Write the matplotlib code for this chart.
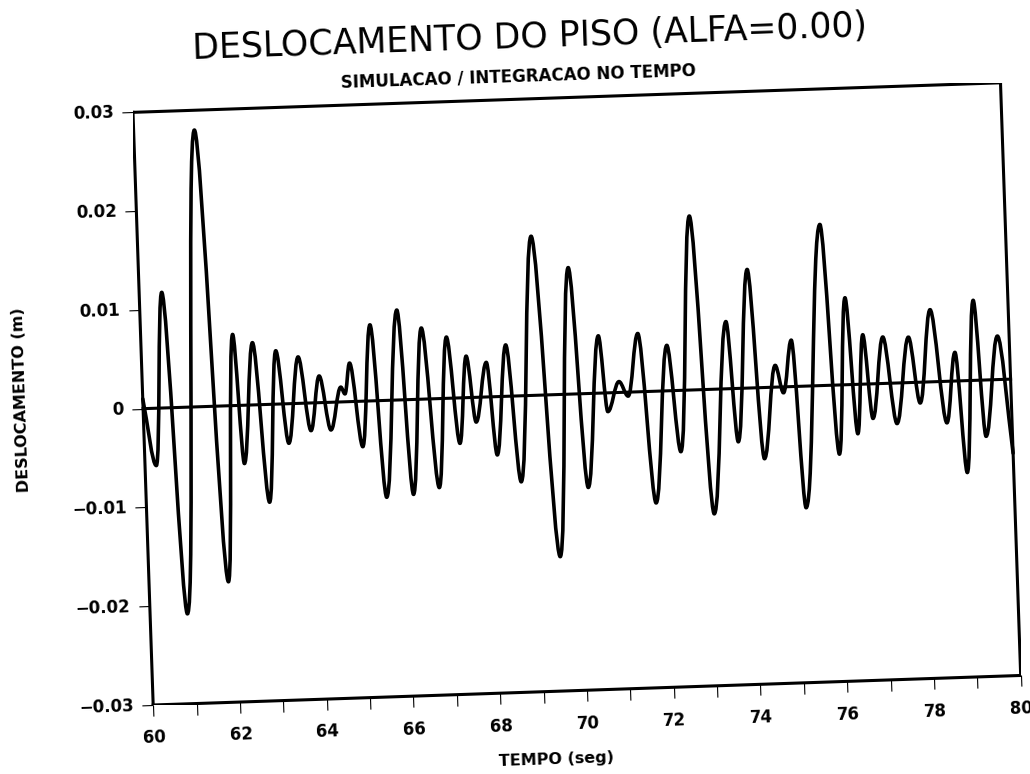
import matplotlib
matplotlib.use("Agg")
import matplotlib.pyplot as plt
from matplotlib.path import Path
from matplotlib.patches import PathPatch
from matplotlib.transforms import Affine2D
import mpl_toolkits.axisartist.floating_axes as floating_axes
from mpl_toolkits.axisartist.grid_finder import FixedLocator, DictFormatter

# Turning points of the floor displacement record (time in s, displacement in m)
tempo = [60.00, 60.26, 60.52, 60.86, 61.40, 61.83, 62.12, 62.29, 62.57, 62.84,
         63.10, 63.33, 63.61, 63.85, 64.08, 64.31, 64.57, 64.66, 64.79, 65.03,
         65.29, 65.54, 65.92, 66.16, 66.47, 66.76, 67.04, 67.27, 67.48, 67.66,
         67.94, 68.12, 68.40, 68.65, 69.07, 69.49, 69.90, 70.19, 70.54, 70.70,
         70.98, 71.18, 71.45, 71.74, 72.11, 72.35, 72.73, 73.07, 73.49, 73.68,
         74.02, 74.27, 74.59, 74.76, 74.98, 75.19, 75.73, 76.00, 76.25, 76.44,
         76.63, 76.80, 77.09, 77.35, 77.68, 77.90, 78.20, 78.50, 78.74, 78.93,
         79.20, 79.39, 79.73, 80.00]
desloc = [0.0010, -0.0058, 0.0117, -0.0209, 0.0280, -0.0178, 0.0072, -0.0059, 0.0063, -0.0099,
          0.0054, -0.0040, 0.0047, -0.0028, 0.0027, -0.0028, 0.0015, 0.0008, 0.0039, -0.0046,
          0.0077, -0.0098, 0.0091, -0.0096, 0.0072, -0.0090, 0.0062, -0.0046, 0.0042, -0.0025,
          0.0035, -0.0059, 0.0052, -0.0087, 0.0161, -0.0164, 0.0128, -0.0095, 0.0058, -0.0019,
          0.0011, -0.0004, 0.0059, -0.0113, 0.0046, -0.0062, 0.0176, -0.0126, 0.0068, -0.0054,
          0.0120, -0.0072, 0.0022, -0.0006, 0.0047, -0.0123, 0.0163, -0.0070, 0.0088, -0.0050,
          0.0050, -0.0035, 0.0047, -0.0041, 0.0046, -0.0021, 0.0073, -0.0042, 0.0029, -0.0093,
          0.0081, -0.0057, 0.0044, -0.0075]

x_ticks = list(range(60, 81))
x_labels = {t: (str(t) if t % 2 == 0 else "") for t in x_ticks}
y_ticks = [-0.03, -0.02, -0.01, 0.0, 0.01, 0.02, 0.03]
y_labels = ["\u22120.03", "\u22120.02", "\u22120.01", "0", "0.01", "0.02", "0.03"]

W, H = 1030, 774
fig = plt.figure(figsize=(W / 100, H / 100), dpi=100)

x0, x1, y0, y1 = 60.0, 80.0, -0.03, 0.03
tilt = 1.95
tr = Affine2D().scale(43.4, 593.0 / 0.06).rotate_deg(tilt)

grid_helper = floating_axes.GridHelperCurveLinear(
    tr, extremes=(x0, x1, y0, y1),
    grid_locator1=FixedLocator(x_ticks),
    tick_formatter1=DictFormatter(x_labels),
    grid_locator2=FixedLocator(y_ticks),
    tick_formatter2=DictFormatter(dict(zip(y_ticks, y_labels))))

corners = tr.transform([[x0, y0], [x1, y0], [x1, y1], [x0, y1]])
bx0, by0 = corners.min(axis=0)
bx1, by1 = corners.max(axis=0)
left_px, bottom_px = 133, H - 705
rect = [left_px / W, bottom_px / H, (bx1 - bx0) / W, (by1 - by0) / H]
ax = fig.add_axes(rect, axes_class=floating_axes.FloatingAxes, grid_helper=grid_helper)
ax.set_xlim(bx0, bx1)
ax.set_ylim(by0, by1)

for name in ["top", "right", "bottom", "left"]:
    ax.axis[name].line.set_linewidth(2.2)
for name in ["top", "right"]:
    ax.axis[name].major_ticks.set_visible(False)
    ax.axis[name].major_ticklabels.set_visible(False)
for name in ["bottom", "left"]:
    t = ax.axis[name].major_ticks
    try:
        t.set_tick_out(True)
    except Exception:
        t.set_tick_direction("out")
    t.set_ticksize(8)
    t.set_linewidth(2)
    lab = ax.axis[name].major_ticklabels
    lab.set_fontsize(12)
    lab.set_fontweight("bold")
ax.axis["bottom"].major_ticklabels.set_pad(10)
ax.axis["left"].major_ticklabels.set_pad(6)

aux = ax.get_aux_axes(tr)

# Smooth trace through the turning points: horizontal tangents at the
# interior extrema, secant slopes at the two ends of the record.
n = len(tempo)
slopes = [0.0] * n
slopes[0] = (desloc[1] - desloc[0]) / (tempo[1] - tempo[0])
slopes[-1] = (desloc[-1] - desloc[-2]) / (tempo[-1] - tempo[-2])
verts = [(tempo[0], desloc[0])]
codes = [Path.MOVETO]
k = 0.36
for i in range(n - 1):
    ta, ya, tb, yb = tempo[i], desloc[i], tempo[i + 1], desloc[i + 1]
    dt = tb - ta
    verts += [(ta + k * dt, ya + slopes[i] * k * dt),
              (tb - k * dt, yb - slopes[i + 1] * k * dt),
              (tb, yb)]
    codes += [Path.CURVE4] * 3
aux.add_patch(PathPatch(Path(verts, codes), fill=False, lw=2.6,
                        edgecolor="black", capstyle="round", joinstyle="round",
                        clip_on=False))
aux.plot([x0, x1], [0.0, 0.0], color="black", lw=2.2, clip_on=False)

fig.text(530 / W, 1 - 38 / H, "DESLOCAMENTO DO PISO (ALFA=0.00)", fontsize=25,
         ha="center", va="center", rotation=tilt, rotation_mode="anchor")
fig.text(518 / W, 1 - 76 / H, "SIMULACAO / INTEGRACAO NO TEMPO", fontsize=12,
         fontweight="bold", ha="center", va="center", rotation=tilt,
         rotation_mode="anchor")
fig.text(556 / W, 1 - 760 / H, "TEMPO (seg)", fontsize=11.5, fontweight="bold",
         ha="center", va="center", rotation=tilt, rotation_mode="anchor")
fig.text(21 / W, 1 - 400 / H, "DESLOCAMENTO (m)", fontsize=11.5, fontweight="bold",
         ha="center", va="center", rotation=90 + tilt, rotation_mode="anchor")

fig.savefig("out.png", dpi=100)
